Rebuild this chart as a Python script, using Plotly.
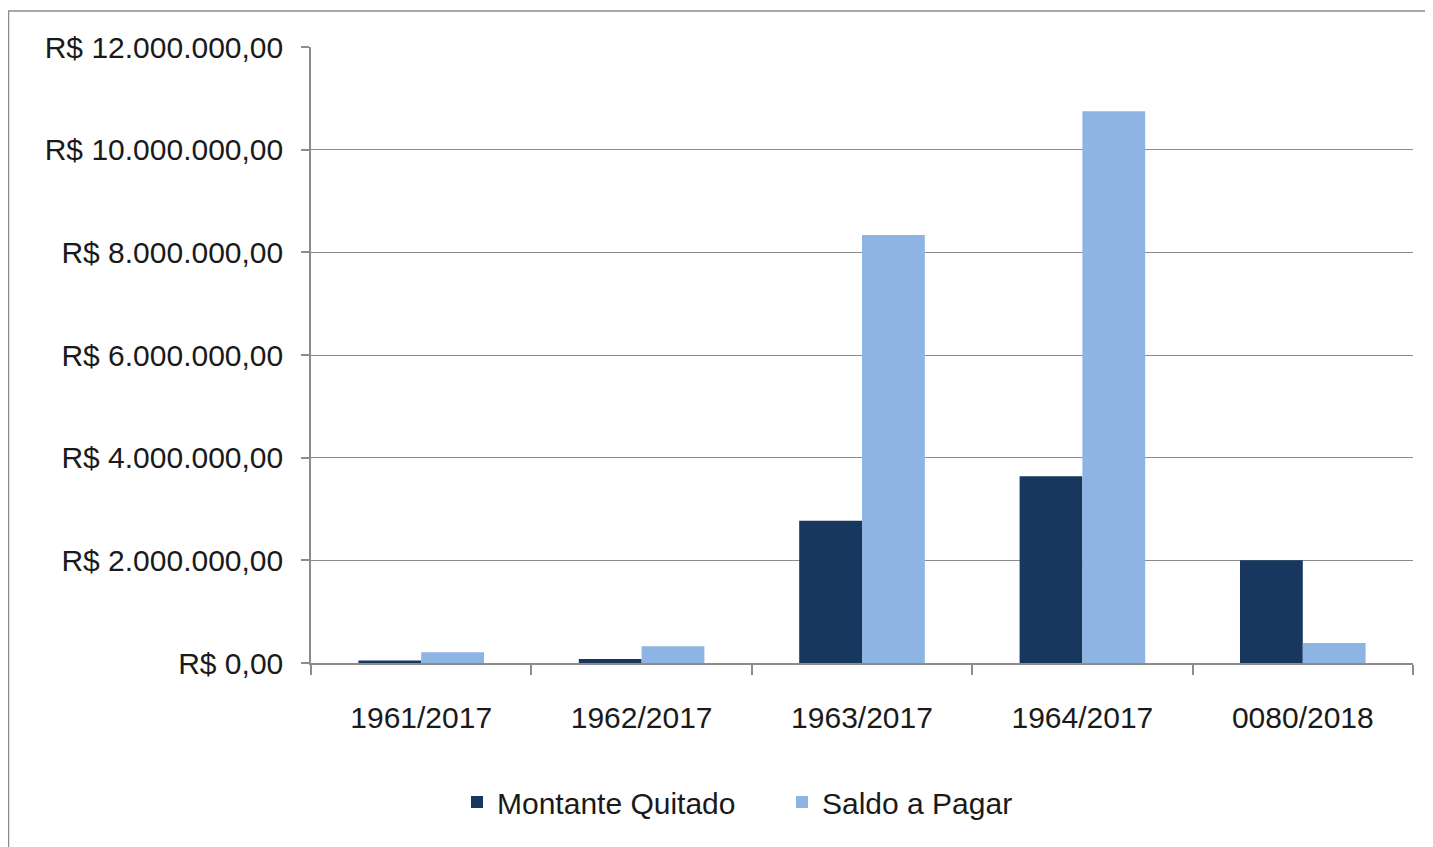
import plotly.graph_objects as go

categories = ["1961/2017", "1962/2017", "1963/2017", "1964/2017", "0080/2018"]
montante_quitado = [50000, 80000, 2770000, 3640000, 2000000]
saldo_a_pagar = [210000, 325000, 8340000, 10750000, 390000]
y_tick_vals = [0, 2000000, 4000000, 6000000, 8000000, 10000000, 12000000]
y_tick_text = ["R$ 0,00", "R$ 2.000.000,00", "R$ 4.000.000,00", "R$ 6.000.000,00",
               "R$ 8.000.000,00", "R$ 10.000.000,00", "R$ 12.000.000,00"]

FONT = "Liberation Sans"
TXT = "#1a1a1a"
GRID = "#8c8c8c"

fig = go.Figure()
fig.add_trace(go.Bar(name="Montante Quitado", x=categories, y=montante_quitado,
                     marker=dict(color="#17375E", line=dict(width=0))))
fig.add_trace(go.Bar(name="Saldo a Pagar", x=categories, y=saldo_a_pagar,
                     marker=dict(color="#8EB4E3", line=dict(width=0))))

OFF = 8  # page body margin
W, H = 1433 - OFF, 847 - OFF
# plot area in page pixels: x 311..1413, y 47..663
L, T = 311 - OFF, 47 - OFF
pw, ph = 1413 - 311, 663 - 47
R, B = W - L - pw, H - T - ph

def px_x(x):
    return (x - OFF - L) / pw

def px_y(y):
    return (T + ph - (y - OFF)) / ph

fig.update_layout(
    width=W, height=H,
    margin=dict(l=L, r=R, t=T, b=B, pad=0),
    paper_bgcolor="white", plot_bgcolor="white",
    barmode="group", bargap=0.43, bargroupgap=0,
    font=dict(family=FONT, size=30, color=TXT),
    showlegend=True,
    legend=dict(orientation="h", x=px_x(782), y=px_y(802), xanchor="center", yanchor="middle",
                font=dict(family=FONT, size=30, color=TXT), itemwidth=30,
                entrywidth=280, entrywidthmode="pixels",
                traceorder="normal"),
    xaxis=dict(type="category", showgrid=False, showline=True, linecolor=GRID, linewidth=1.5,
               ticks="outside", tickson="boundaries", ticklen=10, tickcolor=GRID, tickwidth=1.5,
               tickfont=dict(family=FONT, size=30, color=TXT), ticklabelstandoff=27),
    yaxis=dict(range=[0, 12000000], tickvals=y_tick_vals, ticktext=y_tick_text,
               showgrid=True, gridcolor=GRID, gridwidth=1.2, zeroline=False,
               showline=True, linecolor=GRID, linewidth=1.5,
               ticks="outside", ticklen=8, tickcolor=GRID, tickwidth=1.5,
               tickfont=dict(family=FONT, size=30, color=TXT), ticklabelstandoff=12),
    shapes=[dict(type="rect", xref="paper", yref="paper",
                 x0=px_x(8.5), x1=px_x(1500), y0=px_y(900), y1=px_y(11),
                 line=dict(color="#8c8c8c", width=1.5), fillcolor="rgba(0,0,0,0)", layer="below")],
)

fig.write_html("out.html")
